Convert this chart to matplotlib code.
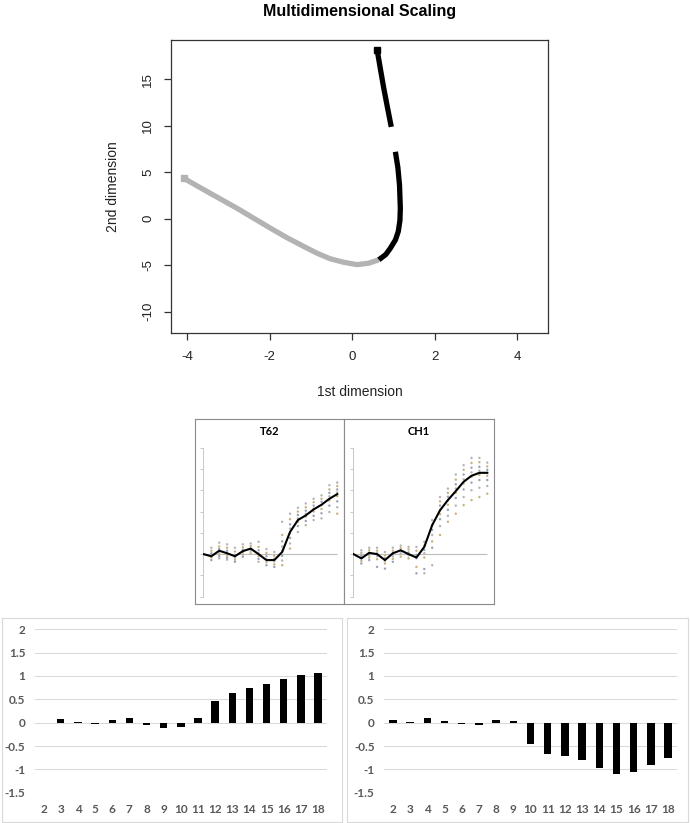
import matplotlib
matplotlib.use("Agg")
import matplotlib.pyplot as plt
import numpy as np

# ---------------- data ----------------
# MDS curve
gray_x = [-4.08, -3.75, -3.44, -2.79, -1.98, -1.58, -1.17, -0.85, -0.53, -0.2, 0.12, 0.4, 0.65]
gray_y = [4.33, 3.5, 2.72, 1.11, -1.03, -2.05, -3.0, -3.72, -4.32, -4.7, -4.95, -4.8, -4.43]
black_low_x = [0.65, 0.82, 0.93, 1.05, 1.12, 1.16, 1.17, 1.15, 1.11, 1.05]
black_low_y = [-4.43, -3.85, -3.17, -2.3, -1.39, -0.2, 1.11, 3.61, 5.5, 7.18]
black_up_x = [0.95, 0.86, 0.77, 0.69, 0.61]
black_up_y = [9.86, 11.9, 13.97, 16.0, 18.08]

# profile panels
times = list(range(1, 19))
t62_line = [0, -0.05, 0.08, 0.02, -0.05, 0.07, 0.13, 0.0, -0.14, -0.14,
            0.05, 0.52, 0.80, 0.91, 1.05, 1.16, 1.30, 1.41]
ch1_line = [0, -0.10, 0.03, 0.0, -0.14, 0.02, 0.09, 0.0, -0.08, 0.17,
            0.68, 1.03, 1.27, 1.48, 1.70, 1.84, 1.91, 1.91]
dot_times = list(range(2, 19))
t62_dots = [
    [0.15, 0.08, 0.02, -0.03, -0.08, -0.14],
    [0.27, 0.18, 0.12, 0.06, 0.0, -0.05, -0.10],
    [0.23, 0.15, 0.08, 0.02, -0.04, -0.09, -0.13],
    [0.15, 0.06, -0.02, -0.08, -0.13, -0.18],
    [0.23, 0.16, 0.10, 0.04, -0.01, -0.06],
    [0.25, 0.19, 0.13, 0.08, 0.02],
    [0.29, 0.17, 0.09, 0.02, -0.05, -0.11, -0.18],
    [0.12, 0.03, -0.05, -0.12, -0.19, -0.26],
    [0.05, -0.04, -0.11, -0.17, -0.24, -0.30],
    [0.76, 0.45, 0.30, 0.18, 0.08, -0.04, -0.15, -0.26],
    [0.95, 0.82, 0.70, 0.60, 0.49, 0.38, 0.25, 0.13],
    [1.09, 1.0, 0.92, 0.84, 0.76, 0.66, 0.52],
    [1.19, 1.10, 1.02, 0.95, 0.88, 0.78, 0.68],
    [1.30, 1.22, 1.14, 1.07, 1.0, 0.90, 0.80],
    [1.38, 1.30, 1.23, 1.15, 1.06, 0.96, 0.84],
    [1.62, 1.52, 1.44, 1.36, 1.26, 1.14, 0.99],
    [1.68, 1.60, 1.52, 1.45, 1.36, 1.24, 1.10, 0.95],
]
ch1_dots = [
    [0.09, 0.03, -0.04, -0.10, -0.16, -0.22],
    [0.15, 0.09, 0.03, -0.03, -0.08, -0.14],
    [0.15, 0.08, 0.02, -0.05, -0.12, -0.30],
    [0.05, -0.03, -0.10, -0.16, -0.22, -0.34],
    [0.15, 0.08, 0.02, -0.05, -0.11, -0.18],
    [0.20, 0.14, 0.08, 0.02, -0.06],
    [0.17, 0.11, 0.04, -0.03, -0.10],
    [0.17, 0.08, -0.02, -0.10, -0.30, -0.45],
    [0.29, 0.20, 0.10, 0.02, -0.08, -0.35, -0.45],
    [0.80, 0.68, 0.57, 0.45, 0.30, 0.15, -0.26],
    [1.34, 1.24, 1.14, 1.04, 0.94, 0.82, 0.66, 0.45],
    [1.54, 1.44, 1.35, 1.26, 1.16, 1.04, 0.90, 0.76],
    [1.87, 1.75, 1.64, 1.54, 1.44, 1.32, 1.14, 0.95],
    [2.09, 1.98, 1.87, 1.76, 1.66, 1.52, 1.34, 1.15],
    [2.26, 2.14, 2.03, 1.92, 1.82, 1.68, 1.50, 1.27],
    [2.26, 2.16, 2.05, 1.96, 1.86, 1.74, 1.56, 1.34],
    [2.15, 2.06, 1.98, 1.91, 1.84, 1.74, 1.60, 1.42],
]

# bar charts
bar_cats = [str(i) for i in range(2, 19)]
bars_left = [-0.01, 0.08, 0.02, -0.02, 0.06, 0.09, -0.04, -0.11, -0.10, 0.09,
             0.46, 0.64, 0.74, 0.83, 0.93, 1.02, 1.07]
bars_right = [0.05, 0.01, 0.09, 0.04, -0.03, -0.06, 0.05, 0.04, -0.45, -0.68,
              -0.71, -0.81, -0.98, -1.10, -1.05, -0.90, -0.75]

# ---------------- layout helpers ----------------
W, H = 690, 823
def box(l, t, r, b):
    return [l / W, 1 - b / H, (r - l) / W, (b - t) / H]

plt.rcParams['font.family'] = ['Liberation Sans', 'DejaVu Sans']
plt.rcParams['axes.unicode_minus'] = False
fig = plt.figure(figsize=(W / 100, H / 100), dpi=100)

# ---------------- top: MDS ----------------
ax = fig.add_axes(box(171, 40, 548, 333))
ax.plot(gray_x, gray_y, color='#b3b3b3', lw=3.8, solid_capstyle='butt')
ax.plot(black_low_x, black_low_y, color='black', lw=3.8, solid_capstyle='butt')
ax.plot(black_up_x, black_up_y, color='black', lw=3.8, solid_capstyle='butt')
ax.plot(gray_x[0], gray_y[0], 's', color='#b3b3b3', ms=5)
ax.plot(black_up_x[-1], black_up_y[-1], 's', color='black', ms=5)
ax.set_xlim(-4.39, 4.75)
ax.set_ylim(-12.3, 19.2)
ax.set_xticks([-4, -2, 0, 2, 4])
ax.set_yticks([-10, -5, 0, 5, 10, 15])
for s in ax.spines.values():
    s.set_color('#333333')
    s.set_linewidth(0.9)
ax.tick_params(direction='out', length=5, width=0.9, color='#333333',
               labelsize=9.5, labelcolor='#222222')
ax.tick_params(axis='x', pad=8)
ax.tick_params(axis='y', pad=7)
for lab in ax.get_yticklabels():
    lab.set_rotation(90)
    lab.set_va('center')
ax.set_title('Multidimensional Scaling', fontsize=11.5, fontweight='bold', pad=17)
ax.set_xlabel('1st dimension', fontsize=10, color='#222222', va='center')
ax.xaxis.set_label_coords(0.5, -59 / 293)
ax.set_ylabel('2nd dimension', fontsize=10, color='#222222', va='center')
ax.yaxis.set_label_coords((113 - 171) / 377, 0.5)

# ---------------- middle: profile panels ----------------
dot_cols = ['#b4b4b4', '#c9b27c', '#9aa0b8']
panels = [
    ('T62', (195, 419, 344, 604), 202.7, t62_line, t62_dots),
    ('CH1', (344, 419, 494, 604), 352.7, ch1_line, ch1_dots),
]
for name, frame, x0, line, dots in panels:
    fa = fig.add_axes(box(*frame))
    fa.set_xticks([])
    fa.set_yticks([])
    for s in fa.spines.values():
        s.set_color('#8a8a8a')
        s.set_linewidth(0.8)
    fa.text(0.5, 1 - 12.7 / 185, name, transform=fa.transAxes, ha='center',
            va='center', fontsize=8, fontweight='bold', family=['Lato', 'DejaVu Sans'])

    ia = fig.add_axes(box(x0, 447.7, x0 + 137.3, 596.7))
    ia.patch.set_alpha(0)
    ia.set_xlim(0.9, 18.35)
    ia.set_ylim(-1, 2.5)
    for k in ['top', 'right', 'bottom']:
        ia.spines[k].set_visible(False)
    ia.spines['left'].set_color('#c8c8c8')
    ia.spines['left'].set_linewidth(0.7)
    ia.set_xticks([])
    ia.set_yticks(np.arange(-1, 2.51, 0.5))
    ia.set_yticklabels([])
    ia.tick_params(axis='y', length=2, width=0.7, color='#c8c8c8')
    ia.hlines(0, 0.9, 18, color='#bdbdbd', lw=0.8)
    for t, vals in zip(dot_times, dots):
        cols = [dot_cols[i % 3] for i in range(len(vals))]
        ia.scatter([t] * len(vals), vals, s=3, c=cols, linewidths=0, zorder=2)
    ia.plot(times, line, color='black', lw=1.5, zorder=3)

# ---------------- bottom: bar charts ----------------
bar_sets = [
    ((2, 617.7, 341.7, 821.7), (35, 629.3, 326.7, 792.7), bars_left),
    ((346.7, 617.7, 687.7, 821.7), (384.3, 629.3, 676.7, 792.7), bars_right),
]
for frame, inner, vals in bar_sets:
    fa = fig.add_axes(box(*frame))
    fa.set_xticks([])
    fa.set_yticks([])
    for s in fa.spines.values():
        s.set_color('#d9d9d9')
        s.set_linewidth(0.8)

    ba = fig.add_axes(box(*inner))
    ba.patch.set_alpha(0)
    xs = np.arange(len(bar_cats))
    ba.bar(xs, vals, width=0.43, color='black', zorder=3)
    ba.set_xlim(-0.5, len(bar_cats) - 0.5)
    ba.set_ylim(-1.5, 2)
    ba.set_yticks(np.arange(-1.5, 2.01, 0.5))
    ba.yaxis.set_major_formatter(plt.FuncFormatter(lambda v, _: f'{v:g}'))
    ba.grid(axis='y', color='#d9d9d9', lw=0.75, zorder=0)
    ba.set_xticks(xs)
    ba.set_xticklabels(bar_cats)
    for s in ba.spines.values():
        s.set_visible(False)
    ba.tick_params(length=0, labelsize=8.5, labelcolor='#595959')
    ba.tick_params(axis='x', pad=8)
    ba.tick_params(axis='y', pad=7)
    for lab in ba.get_xticklabels() + ba.get_yticklabels():
        lab.set_fontweight('bold')
        lab.set_family(['Lato', 'DejaVu Sans'])

fig.savefig('out.png', dpi=100)
